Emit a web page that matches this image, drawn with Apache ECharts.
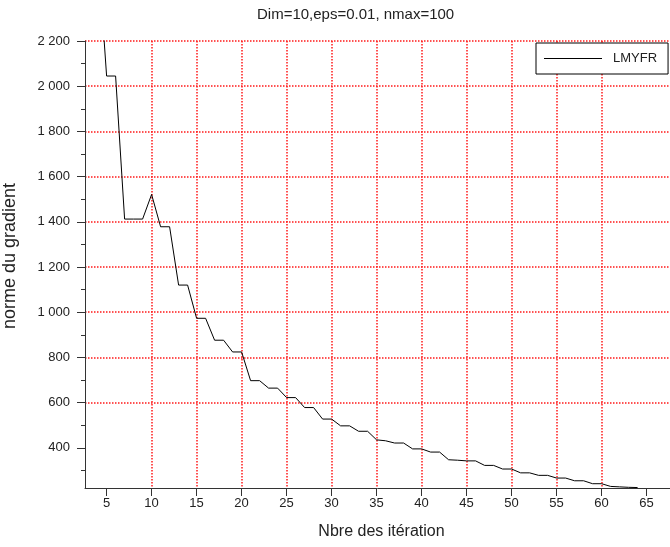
<!DOCTYPE html>
<html lang="fr">
<head>
    <meta charset="UTF-8">
    <title>Dim=10,eps=0.01, nmax=100</title>
    <script src="https://cdn.jsdelivr.net/npm/echarts@6/dist/echarts.min.js"></script>
    <style>
        html, body { margin: 0; padding: 0; background: #fff; }
        #chart { width: 670px; height: 547px; }
    </style>
</head>
<body>
    <div id="chart"></div>
    <script>
        // données (itération, norme du gradient)
        const iterations = [4, 5, 6, 7, 8, 9, 10, 11, 12, 13, 14, 15, 16, 17, 18, 19, 20,
            21, 22, 23, 24, 25, 26, 27, 28, 29, 30, 31, 32, 33, 34, 35, 36, 37, 38, 39, 40,
            41, 42, 43, 44, 45, 46, 47, 48, 49, 50, 51, 52, 53, 54, 55, 56, 57, 58, 59, 60,
            61, 62, 63, 64];
        const gradNorm = [2620, 2045, 2045, 1412, 1412, 1412, 1521, 1378, 1378, 1120, 1120, 973, 973, 876, 876, 824, 824,
            697, 697, 664, 664, 622, 622, 578, 578, 527, 527, 497, 497, 473, 473, 435, 431, 421, 421, 395, 395,
            381, 381, 347, 345, 342, 342, 322, 322, 306, 306, 289, 289, 278, 278, 266, 266, 254, 254, 241, 241,
            229, 227, 225, 224];
        const xTicks = [5, 10, 15, 20, 25, 30, 35, 40, 45, 50, 55, 60, 65];
        const yTicks = [400, 600, 800, 1000, 1200, 1400, 1600, 1800, 2000, 2200];
        const seriesName = 'LMYFR';

        const font = "'Liberation Sans', Arial, sans-serif";
        const axisColor = '#333';
        const gridRed = '#ff1a1a';

        function fmtThousands(v) {
            if (v >= 1000) {
                return Math.floor(v / 1000) + ' ' + String(v % 1000).padStart(3, '0');
            }
            return String(v);
        }

        const chart = echarts.init(document.getElementById('chart'));
        chart.setOption({
            animation: false,
            backgroundColor: '#fff',
            title: {
                text: 'Dim=10,eps=0.01, nmax=100',
                left: 257, top: 7, padding: 0,
                textStyle: { fontFamily: font, fontSize: 15, fontWeight: 'normal', color: '#222' }
            },
            legend: {
                data: [{ name: seriesName, icon: 'rect' }],
                left: 536, top: 43,
                padding: [9, 11, 9, 8],
                itemWidth: 58, itemHeight: 1,
                itemStyle: { color: '#000' },
                borderColor: '#000', borderWidth: 1, backgroundColor: '#fff',
                textStyle: { fontFamily: font, fontSize: 13, color: '#222', padding: [0, 0, 0, 6] }
            },
            grid: { left: 85, right: 0, top: 41, bottom: 59, containLabel: false, outerBoundsMode: 'none' },
            xAxis: {
                type: 'value',
                min: 2.6, max: 67.6, splitNumber: 13,
                name: 'Nbre des itération',
                nameLocation: 'middle', nameGap: 36,
                nameTextStyle: { fontFamily: font, fontSize: 16, color: '#222', padding: [0, 0, 0, 8] },
                axisLine: { show: true, lineStyle: { color: axisColor, width: 1 } },
                axisTick: { show: true, inside: false, length: 8, customValues: xTicks,
                    lineStyle: { color: axisColor } },
                axisLabel: { customValues: xTicks, margin: 9,
                    fontFamily: font, fontSize: 13, color: '#222' },
                splitLine: { show: true, showMinLine: false, showMaxLine: false,
                    lineStyle: { color: gridRed, type: [1.5, 1.5], width: 1.5, opacity: 1 } }
            },
            yAxis: {
                type: 'value',
                min: 222, max: 2200, splitNumber: 10,
                name: 'norme du gradient',
                nameLocation: 'middle', nameGap: 66,
                nameTextStyle: { fontFamily: font, fontSize: 18, color: '#222', padding: [0, 0, 0, 17] },
                axisLine: { show: true, lineStyle: { color: axisColor, width: 1 } },
                axisTick: { show: true, inside: false, length: 8, customValues: yTicks,
                    lineStyle: { color: axisColor } },
                minorTick: { show: true, splitNumber: 2, length: 4, lineStyle: { color: axisColor } },
                axisLabel: { customValues: yTicks, margin: 15,
                    fontFamily: font, fontSize: 13, color: '#222', formatter: fmtThousands },
                splitLine: { show: true, showMinLine: false, showMaxLine: true,
                    lineStyle: { color: gridRed, type: [1.5, 1.5], width: 1.5, opacity: 1 } }
            },
            series: [{
                name: seriesName,
                type: 'line',
                data: iterations.map((x, i) => [x, gradNorm[i]]),
                symbol: 'none',
                clip: true,
                lineStyle: { color: '#000', width: 1 },
                itemStyle: { color: '#000' }
            }]
        });
    </script>
</body>
</html>
